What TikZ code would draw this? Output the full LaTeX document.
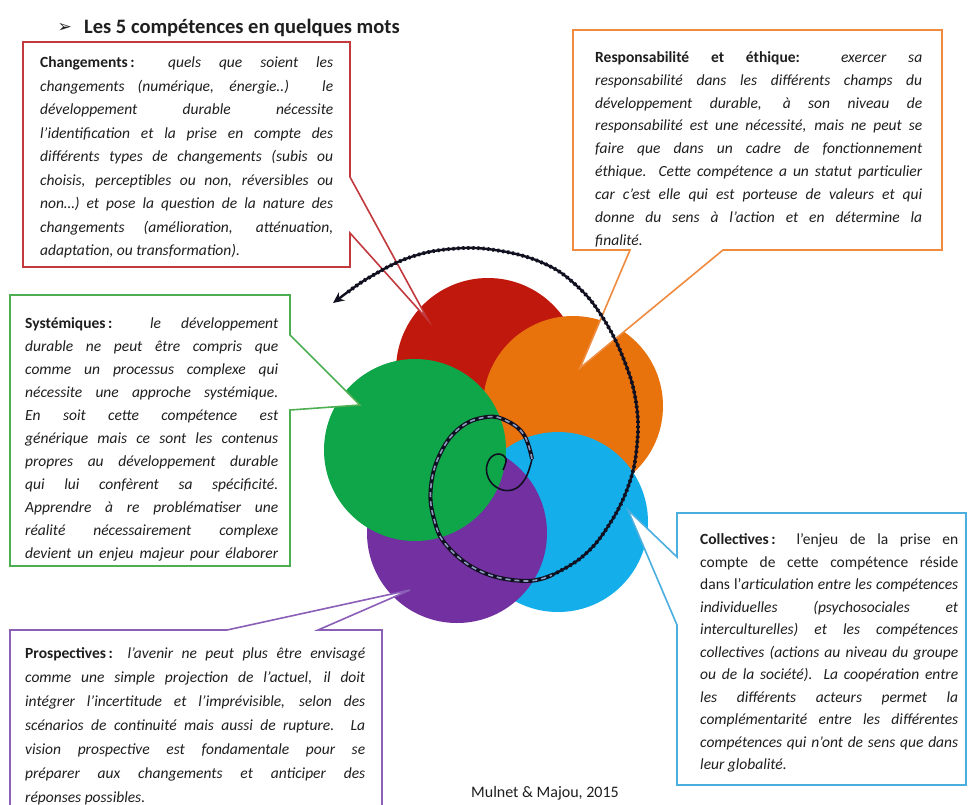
\documentclass[tikz,border=0pt]{standalone}
\usepackage{fontspec}
\setmainfont{Carlito}
\newfontfamily\symfont{DejaVu Sans}
\usetikzlibrary{arrows.meta}
\definecolor{cRed}{HTML}{C1180D}
\definecolor{cOrange}{HTML}{E8720C}
\definecolor{cGreen}{HTML}{0FA64A}
\definecolor{cCyan}{HTML}{14AEEA}
\definecolor{cPurple}{HTML}{7230A0}
\definecolor{bRed}{HTML}{C23A3E}
\definecolor{bOrange}{HTML}{EE8B3E}
\definecolor{bGreen}{HTML}{4DAF52}
\definecolor{bCyan}{HTML}{4AAEDF}
\definecolor{bPurple}{HTML}{8B5EB8}
\definecolor{txt}{HTML}{1E1E1E}
\definecolor{spiralink}{HTML}{101020}
\definecolor{spirallight}{HTML}{8E9CC0}
\newcommand\jl[1]{\hbox to \hsize{\strut#1}}
\newcommand\el[1]{\hbox{\strut#1}}
\newcommand\lab[1]{{\upshape\bfseries#1}}
\newcommand\tb[2]{\vbox{\hsize=#1\relax#2}}
\begin{document}
\begin{tikzpicture}[x=1pt,y=-1pt,
  callout/.style={fill=white,line width=1.6pt,line join=miter,draw=#1},
  boxtext/.style={anchor=north west,inner sep=0pt,text=txt,font=\fontsize{15.5}{#1}\selectfont\itshape},
  disc/.style={fill=#1},
  innerline/.style={line width=1.6pt,draw=spiralink},
  middark/.style={line width=4pt,draw=spiralink},
  midlight/.style={line width=1.6pt,draw=spirallight,dash pattern=on 5pt off 4pt},
  outerline/.style={line width=2.4pt,draw=spiralink},
  outerbead/.style={line width=3.8pt,draw=spiralink,dash pattern=on 2pt off 3pt}
]
\useasboundingbox (0,0) rectangle (969,804);
\fill[white] (0,0) rectangle (969,804);

% circles
\fill[disc=cRed] (488,370) circle[radius=92pt];
\fill[disc=cOrange] (573,406) circle[radius=90pt];
\fill[disc=cCyan] (558,522) circle[radius=90pt];
\fill[disc=cPurple] (457,533) circle[radius=90pt];
\fill[disc=cGreen] (415,450) circle[radius=91pt];

% callout tips
\coordinate (redtip) at (428,320);
\coordinate (orangetip) at (580,368);
\coordinate (greentip) at (360,405);
\coordinate (cyantip) at (628,510);
\coordinate (purpletip) at (410,590);

% callout boxes
\draw[callout=bRed] (23,42) -- (350,42) -- (350,177) -- (redtip) -- (350,233) -- (350,267) -- (23,267) -- cycle;
\draw[callout=bOrange] (573,30) -- (942,30) -- (942,250) -- (723,250) -- (orangetip) -- (630,250) -- (573,250) -- cycle;
\draw[callout=bGreen] (10,295) -- (290,295) -- (290,335) -- (greentip) -- (290,410) -- (290,566) -- (10,566) -- cycle;
\draw[callout=bCyan] (677,513) -- (966,513) -- (966,785) -- (677,785) -- (677,625) -- (cyantip) -- (677,557) -- cycle;
\draw[callout=bPurple] (10,630) -- (227,630) -- (purpletip) -- (318,630) -- (382,630) -- (382,812) -- (10,812) -- cycle;

% spiral
\draw[innerline] plot[smooth,tension=0.7] coordinates {(503,470) (506,459) (498,454) (489,460) (487,474) (496,487) (512,490) (525,479) (532,459)};
\draw[middark] plot[smooth,tension=0.7] coordinates {(532,459) (524,435) (507,421) (487,417) (461,427) (441,452) (431,486) (434,519) (448,547) (482,572) (525,581) (552,575)};
\draw[midlight] plot[smooth,tension=0.7] coordinates {(532,459) (524,435) (507,421) (487,417) (461,427) (441,452) (431,486) (434,519) (448,547) (482,572) (525,581) (552,575)};
\draw[outerline] plot[smooth,tension=0.7] coordinates {(552,575) (582,557) (607,528) (628,487) (637,445) (636,402) (624,360) (603,318) (577,286) (543,263) (495,250) (450,249) (408,258) (370,277) (348,292)};
\draw[outerbead] plot[smooth,tension=0.7] coordinates {(552,575) (582,557) (607,528) (628,487) (637,445) (636,402) (624,360) (603,318) (577,286) (543,263) (495,250) (450,249) (408,258) (370,277) (348,292)};
\coordinate (arrowfrom) at (349,291);
\coordinate (arrowto) at (333,303);
\draw[line width=2.4pt,draw=spiralink,-{Stealth[length=11pt,width=10pt]}] (arrowfrom) -- (arrowto);

% title
\node[anchor=east,inner sep=0pt,font=\symfont\fontsize{17}{19}\selectfont,text=txt] (bullet) at (72,28) {➢};
\node[anchor=west,inner sep=0pt,font=\fontsize{20.5}{22}\selectfont\bfseries,text=txt] (title) at (84,28) {Les 5 compétences en quelques mots};

% texts
\node[boxtext=23.5pt] (redtxt) at (40,51) {\tb{293pt}{%
\jl{\lab{Changements\kern2.5pt:} quels que soient les}%
\jl{changements (numérique, énergie..) le}%
\jl{développement durable nécessite}%
\jl{l’identification et la prise en compte des}%
\jl{différents types de changements (subis ou}%
\jl{choisis, perceptibles ou non, réversibles ou}%
\jl{non…) et pose la question de la nature des}%
\jl{changements (amélioration, atténuation,}%
\el{adaptation, ou transformation).}}};

\node[boxtext=22.9pt] (orangetxt) at (595,46) {\tb{327pt}{%
\jl{\lab{Responsabilité et éthique:} exercer sa}%
\jl{responsabilité dans les différents champs du}%
\jl{développement durable, à son niveau de}%
\jl{responsabilité est une nécessité, mais ne peut se}%
\jl{faire que dans un cadre de fonctionnement}%
\jl{éthique. Cette compétence a un statut particulier}%
\jl{car c’est elle qui est porteuse de valeurs et qui}%
\jl{donne du sens à l’action et en détermine la}%
\el{finalité.}}};

\node[boxtext=23pt] (greentxt) at (25,312) {\tb{253pt}{%
\jl{\lab{Systémiques\kern2.5pt:} le développement}%
\jl{durable ne peut être compris que}%
\jl{comme un processus complexe qui}%
\jl{nécessite une approche systémique.}%
\jl{En soit cette compétence est}%
\jl{générique mais ce sont les contenus}%
\jl{propres au développement durable}%
\jl{qui lui confèrent sa spécificité.}%
\jl{Apprendre à re problématiser une}%
\jl{réalité nécessairement complexe}%
\jl{devient un enjeu majeur pour élaborer}}};

\node[boxtext=22.5pt] (cyantxt) at (700,529) {\tb{258pt}{%
\jl{\lab{Collectives\kern2.5pt:} \upshape l’enjeu de la prise en}%
\jl{\upshape compte de cette compétence réside}%
\jl{\upshape dans l’\itshape articulation entre les compétences}%
\jl{individuelles (psychosociales et}%
\jl{interculturelles) et les compétences}%
\jl{collectives (actions au niveau du groupe}%
\jl{ou de la société). La coopération entre}%
\jl{les différents acteurs permet la}%
\jl{complémentarité entre les différentes}%
\jl{compétences qui n’ont de sens que dans}%
\el{leur globalité.}}};

\node[boxtext=24pt] (purpletxt) at (25,641) {\tb{340pt}{%
\jl{\lab{Prospectives\kern2.5pt:} l’avenir ne peut plus être envisagé}%
\jl{comme une simple projection de l’actuel, il doit}%
\jl{intégrer l’incertitude et l’imprévisible, selon des}%
\jl{scénarios de continuité mais aussi de rupture. La}%
\jl{vision prospective est fondamentale pour se}%
\jl{préparer aux changements et anticiper des}%
\el{réponses possibles.}}};

\node[inner sep=0pt,font=\fontsize{16}{18}\selectfont,text=txt] (source) at (545,793) {Mulnet \& Majou, 2015};
\end{tikzpicture}
\end{document}
